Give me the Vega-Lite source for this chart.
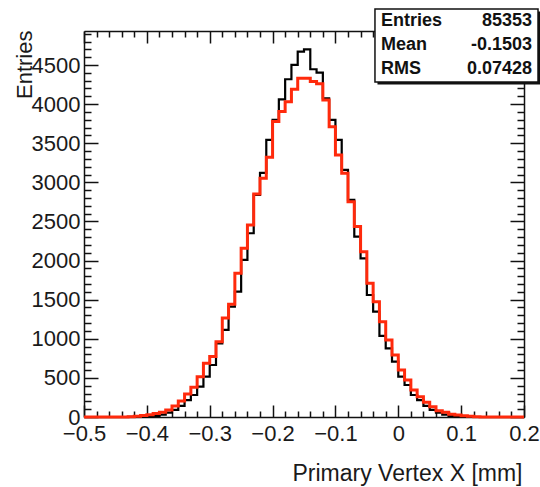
{
  "$schema": "https://vega.github.io/schema/vega-lite/v6.json",
  "width": 440,
  "height": 386,
  "autosize": {"type": "none"},
  "padding": {"left": 84, "top": 31, "right": 16, "bottom": 70},
  "background": "white",
  "config": {"view": {"stroke": null}, "font": "Liberation Sans"},
  "datasets": {
    "hist": [
      {"x": -0.50, "black": 0, "red": 0},
      {"x": -0.49, "black": 0, "red": 0},
      {"x": -0.48, "black": 0, "red": 0},
      {"x": -0.47, "black": 0, "red": 0},
      {"x": -0.46, "black": 0, "red": 0},
      {"x": -0.45, "black": 0, "red": 0},
      {"x": -0.44, "black": 0, "red": 0},
      {"x": -0.43, "black": 1, "red": 2},
      {"x": -0.42, "black": 1, "red": 8},
      {"x": -0.41, "black": 3, "red": 20},
      {"x": -0.40, "black": 8, "red": 30},
      {"x": -0.39, "black": 15, "red": 45},
      {"x": -0.38, "black": 30, "red": 60},
      {"x": -0.37, "black": 55, "red": 90},
      {"x": -0.36, "black": 90, "red": 141},
      {"x": -0.35, "black": 141, "red": 205},
      {"x": -0.34, "black": 217, "red": 294},
      {"x": -0.33, "black": 281, "red": 379},
      {"x": -0.32, "black": 388, "red": 516},
      {"x": -0.31, "black": 516, "red": 686},
      {"x": -0.30, "black": 665, "red": 772},
      {"x": -0.29, "black": 942, "red": 963},
      {"x": -0.28, "black": 1113, "red": 1266},
      {"x": -0.27, "black": 1411, "red": 1441},
      {"x": -0.26, "black": 1603, "red": 1837},
      {"x": -0.25, "black": 2008, "red": 2157},
      {"x": -0.24, "black": 2349, "red": 2455},
      {"x": -0.23, "black": 2840, "red": 2852},
      {"x": -0.22, "black": 3120, "red": 3052},
      {"x": -0.21, "black": 3542, "red": 3320},
      {"x": -0.20, "black": 3798, "red": 3777},
      {"x": -0.19, "black": 4062, "red": 3905},
      {"x": -0.18, "black": 4318, "red": 4032},
      {"x": -0.17, "black": 4501, "red": 4190},
      {"x": -0.16, "black": 4672, "red": 4331},
      {"x": -0.15, "black": 4700, "red": 4331},
      {"x": -0.14, "black": 4446, "red": 4288},
      {"x": -0.13, "black": 4403, "red": 4260},
      {"x": -0.12, "black": 4075, "red": 4054},
      {"x": -0.11, "black": 3798, "red": 3712},
      {"x": -0.10, "black": 3542, "red": 3350},
      {"x": -0.09, "black": 3159, "red": 3116},
      {"x": -0.08, "black": 2775, "red": 2753},
      {"x": -0.07, "black": 2306, "red": 2434},
      {"x": -0.06, "black": 2029, "red": 2114},
      {"x": -0.05, "black": 1560, "red": 1709},
      {"x": -0.04, "black": 1347, "red": 1475},
      {"x": -0.03, "black": 1036, "red": 1219},
      {"x": -0.02, "black": 878, "red": 984},
      {"x": -0.01, "black": 708, "red": 793},
      {"x": 0.00, "black": 516, "red": 601},
      {"x": 0.01, "black": 409, "red": 473},
      {"x": 0.02, "black": 281, "red": 345},
      {"x": 0.03, "black": 217, "red": 260},
      {"x": 0.04, "black": 141, "red": 188},
      {"x": 0.05, "black": 90, "red": 132},
      {"x": 0.06, "black": 55, "red": 81},
      {"x": 0.07, "black": 30, "red": 60},
      {"x": 0.08, "black": 15, "red": 35},
      {"x": 0.09, "black": 8, "red": 25},
      {"x": 0.10, "black": 3, "red": 15},
      {"x": 0.11, "black": 1, "red": 10},
      {"x": 0.12, "black": 0, "red": 3},
      {"x": 0.13, "black": 0, "red": 0},
      {"x": 0.14, "black": 0, "red": 0},
      {"x": 0.15, "black": 0, "red": 0},
      {"x": 0.16, "black": 0, "red": 0},
      {"x": 0.17, "black": 0, "red": 0},
      {"x": 0.18, "black": 0, "red": 0},
      {"x": 0.19, "black": 0, "red": 0},
      {"x": 0.20, "black": 0, "red": 0}
    ],
    "stats": [
      {"stat": "Entries", "value": "85353"},
      {"stat": "Mean", "value": "-0.1503"},
      {"stat": "RMS", "value": "0.07428"}
    ]
  },
  "layer": [
    {
      "data": {"name": "hist"},
      "mark": {"type": "line", "interpolate": "step-after", "color": "#000000", "strokeWidth": 2.2},
      "encoding": {
        "x": {
          "field": "x", "type": "quantitative",
          "scale": {"domain": [-0.5, 0.2], "nice": false, "zero": false},
          "axis": {
            "orient": "bottom",
            "values": [-0.5, -0.48, -0.46, -0.44, -0.42, -0.4, -0.38, -0.36, -0.34, -0.32, -0.3, -0.28, -0.26, -0.24, -0.22, -0.2, -0.18, -0.16, -0.14, -0.12, -0.1, -0.08, -0.06, -0.04, -0.02, 0, 0.02, 0.04, 0.06, 0.08, 0.1, 0.12, 0.14, 0.16, 0.18, 0.2],
            "labelExpr": "abs(datum.value*10 - round(datum.value*10)) < 0.001 ? (abs(datum.value) < 0.0001 ? '0' : format(datum.value, '.1f')) : ''",
            "labelOverlap": false,
            "labelFlush": false,
            "labelFont": "Liberation Sans", "labelFontSize": 22, "labelColor": "#1a1a1a",
            "labelPadding": 18,
            "tickSize": {"condition": {"test": "abs(datum.value*10 - round(datum.value*10)) < 0.001", "value": -12}, "value": -6},
            "tickColor": "#111111", "tickWidth": 1.5,
            "domainColor": "#111111", "domainWidth": 1.5,
            "grid": false,
            "title": "Primary Vertex X [mm]",
            "titleFont": "Liberation Sans", "titleFontSize": 23, "titleFontWeight": "normal", "titleColor": "#1a1a1a",
            "titleAlign": "right", "titleAnchor": "end", "titleBaseline": "alphabetic",
            "titleX": 438, "titleY": 63
          }
        },
        "y": {
          "field": "black", "type": "quantitative",
          "scale": {"domain": [0, 4935], "nice": false},
          "axis": {
            "orient": "left",
            "values": [0, 100, 200, 300, 400, 500, 600, 700, 800, 900, 1000, 1100, 1200, 1300, 1400, 1500, 1600, 1700, 1800, 1900, 2000, 2100, 2200, 2300, 2400, 2500, 2600, 2700, 2800, 2900, 3000, 3100, 3200, 3300, 3400, 3500, 3600, 3700, 3800, 3900, 4000, 4100, 4200, 4300, 4400, 4500, 4600, 4700, 4800, 4900],
            "labelExpr": "datum.value % 500 == 0 ? format(datum.value, 'd') : ''",
            "labelOverlap": false,
            "labelFlush": false,
            "labelFont": "Liberation Sans", "labelFontSize": 22, "labelColor": "#1a1a1a",
            "labelPadding": 18,
            "tickSize": {"condition": {"test": "datum.value % 500 == 0", "value": -14}, "value": -7},
            "tickColor": "#111111", "tickWidth": 1.5,
            "domainColor": "#111111", "domainWidth": 1.5,
            "grid": false,
            "title": "Entries",
            "titleFont": "Liberation Sans", "titleFontSize": 22, "titleFontWeight": "normal", "titleColor": "#1a1a1a",
            "titleAngle": 270, "titleAlign": "right", "titleAnchor": "end", "titleBaseline": "alphabetic",
            "titleX": -53, "titleY": -1
          }
        }
      }
    },
    {
      "data": {"name": "hist"},
      "mark": {"type": "line", "interpolate": "step-after", "color": "#ff2a0c", "strokeWidth": 3},
      "encoding": {
        "x": {
          "field": "x", "type": "quantitative",
          "scale": {"domain": [-0.5, 0.2], "nice": false, "zero": false},
          "axis": {
            "orient": "top",
            "values": [-0.5, -0.48, -0.46, -0.44, -0.42, -0.4, -0.38, -0.36, -0.34, -0.32, -0.3, -0.28, -0.26, -0.24, -0.22, -0.2, -0.18, -0.16, -0.14, -0.12, -0.1, -0.08, -0.06, -0.04, -0.02, 0, 0.02, 0.04, 0.06, 0.08, 0.1, 0.12, 0.14, 0.16, 0.18, 0.2],
            "labels": false,
            "tickSize": {"condition": {"test": "abs(datum.value*10 - round(datum.value*10)) < 0.001", "value": -12}, "value": -6},
            "tickColor": "#111111", "tickWidth": 1.5,
            "domainColor": "#111111", "domainWidth": 1.5,
            "grid": false,
            "title": null
          }
        },
        "y": {
          "field": "red", "type": "quantitative",
          "scale": {"domain": [0, 4935], "nice": false},
          "axis": {
            "orient": "right",
            "values": [0, 100, 200, 300, 400, 500, 600, 700, 800, 900, 1000, 1100, 1200, 1300, 1400, 1500, 1600, 1700, 1800, 1900, 2000, 2100, 2200, 2300, 2400, 2500, 2600, 2700, 2800, 2900, 3000, 3100, 3200, 3300, 3400, 3500, 3600, 3700, 3800, 3900, 4000, 4100, 4200, 4300, 4400, 4500, 4600, 4700, 4800, 4900],
            "labels": false,
            "tickSize": {"condition": {"test": "datum.value % 500 == 0", "value": -14}, "value": -7},
            "tickColor": "#111111", "tickWidth": 1.5,
            "domainColor": "#111111", "domainWidth": 1.5,
            "grid": false,
            "title": null
          }
        }
      }
    },
    {
      "data": {"values": [{}]},
      "mark": {"type": "rect", "fill": "#111111", "xOffset": 2.5, "x2Offset": 2.5, "yOffset": 2.5, "y2Offset": 2.5},
      "encoding": {
        "x": {"datum": -0.0371, "type": "quantitative", "scale": {"domain": [-0.5, 0.2], "nice": false, "zero": false}, "axis": null},
        "x2": {"datum": 0.2223},
        "y": {"datum": 5216, "type": "quantitative", "scale": {"domain": [0, 4935], "nice": false}, "axis": null},
        "y2": {"datum": 4283}
      }
    },
    {
      "data": {"values": [{}]},
      "mark": {"type": "rect", "fill": "white", "stroke": "#111111", "strokeWidth": 1.5},
      "encoding": {
        "x": {"datum": -0.0371, "type": "quantitative", "scale": {"domain": [-0.5, 0.2], "nice": false, "zero": false}, "axis": null},
        "x2": {"datum": 0.2223},
        "y": {"datum": 5216, "type": "quantitative", "scale": {"domain": [0, 4935], "nice": false}, "axis": null},
        "y2": {"datum": 4283}
      }
    },
    {
      "data": {"name": "stats"},
      "mark": {"type": "text", "align": "left", "baseline": "alphabetic", "font": "Liberation Sans", "fontSize": 18, "fontWeight": "bold", "color": "#111111"},
      "encoding": {
        "x": {"datum": -0.0275, "type": "quantitative", "scale": {"domain": [-0.5, 0.2], "nice": false, "zero": false}, "axis": null},
        "y": {"field": "stat", "type": "nominal", "scale": {"type": "point", "domain": ["Entries", "Mean", "RMS"], "range": [-5, 43], "padding": 0}, "axis": null},
        "text": {"field": "stat"}
      }
    },
    {
      "data": {"name": "stats"},
      "mark": {"type": "text", "align": "right", "baseline": "alphabetic", "font": "Liberation Sans", "fontSize": 18, "fontWeight": "bold", "color": "#111111"},
      "encoding": {
        "x": {"datum": 0.2127, "type": "quantitative", "scale": {"domain": [-0.5, 0.2], "nice": false, "zero": false}, "axis": null},
        "y": {"field": "stat", "type": "nominal", "scale": {"type": "point", "domain": ["Entries", "Mean", "RMS"], "range": [-5, 43], "padding": 0}, "axis": null},
        "text": {"field": "value"}
      }
    }
  ],
  "resolve": {"scale": {"y": "independent"}, "axis": {"x": "independent", "y": "independent"}}
}
